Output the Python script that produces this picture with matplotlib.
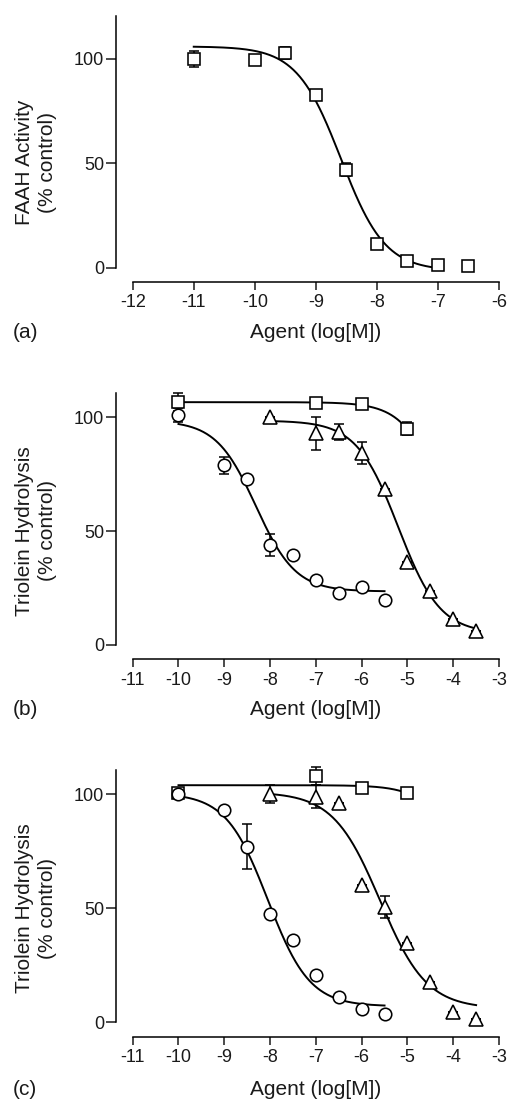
import numpy as np
import matplotlib.pyplot as plt

plt.rcParams['font.family'] = ['Liberation Sans', 'DejaVu Sans']
plt.rcParams['axes.unicode_minus'] = False

# fit rows are: top, bottom, logIC50, hill slope, fitted from, fitted to

# (a) FAAH activity
a_sq_x = [-11, -10, -9.5, -9, -8.5, -8, -7.5, -7, -6.5]
a_sq_y = [100, 99.3, 102.9, 82.9, 47, 11.5, 3.4, 1.4, 1.0]
a_sq_err = [4, 0, 3, 0, 3, 0, 0, 0, 0]
a_sq_fit = [106, -1.5, -8.59, 1.2, -11, -7]

# (b) triolein hydrolysis
b_sq_x = [-10, -7, -6, -5]
b_sq_y = [106.6, 106.1, 105.7, 95]
b_sq_err = [4, 0, 0, 3]
b_sq_fit = [106.6, 0, -4.1, 1.0, -10, -5]

b_tri_x = [-8, -7, -6.5, -6, -5.5, -5, -4.5, -4, -3.5]
b_tri_y = [100.3, 93, 93.7, 84.2, 68.4, 36.3, 23.8, 11.3, 6.3]
b_tri_err = [0, 7.3, 3.5, 4.8, 0, 0, 0, 0, 0]
b_tri_fit = [98.5, 5, -5.2, 0.95, -8, -3.5]

b_ci_x = [-10, -9, -8.5, -8, -7.5, -7, -6.5, -6, -5.5]
b_ci_y = [101, 78.8, 72.9, 43.9, 39.5, 28.5, 23, 25.3, 19.8]
b_ci_err = [3, 3.8, 0, 5, 0, 0, 0, 0, 0]
b_ci_fit = [98.5, 23.5, -8.31, 1.0, -10, -5.5]

# (c) triolein hydrolysis
c_sq_x = [-10, -7, -6, -5]
c_sq_y = [100.4, 108, 102.6, 100.4]
c_sq_err = [2, 4, 0, 0]
c_sq_fit = [104, 0, -3.55, 1.0, -10, -5]

c_tri_x = [-8, -7, -6.5, -6, -5.5, -5, -4.5, -4, -3.5]
c_tri_y = [100, 99, 96.3, 60.2, 50.7, 34.6, 17.8, 4.6, 1.3]
c_tri_err = [4, 5, 0, 0, 4.8, 0, 0, 0, 0]
c_tri_fit = [101, 6, -5.6, 0.85, -8, -3.5]

c_ci_x = [-10, -9, -8.5, -8, -7.5, -7, -6.5, -6, -5.5]
c_ci_y = [100, 93.1, 77, 47.4, 36.1, 20.7, 11.2, 6, 3.5]
c_ci_err = [0, 0, 9.8, 0, 0, 0, 0, 0, 0]
c_ci_fit = [100.5, 7, -8.05, 0.95, -10, -5.5]


def hill(fit):
    top, bottom, logic50, slope, x0, x1 = fit
    xs = np.linspace(x0, x1, 300)
    return xs, bottom + (top - bottom) / (1 + 10 ** ((xs - logic50) * slope))


def series(ax, x, y, err, fit, marker, ms):
    xs, ys = hill(fit)
    ax.plot(xs, ys, color='black', lw=1.4, zorder=2, clip_on=False)
    ax.errorbar(x, y, yerr=err, fmt='none', ecolor='black', elinewidth=1.1,
                capsize=3.6, capthick=1.1, zorder=3, clip_on=False)
    ax.plot(x, y, marker, ms=ms, mfc='white', mec='black', mew=1.15,
            ls='none', zorder=4, clip_on=False)


def style(ax, xlim, ylim, xticks, ylabel, letter, ylab_y, xlab_y):
    ax.set_xlim(xlim)
    ax.set_ylim(ylim)
    ax.set_xticks(xticks)
    ax.set_yticks([0, 50, 100])
    for s in ['top', 'right']:
        ax.spines[s].set_visible(False)
    ax.spines['left'].set_position(('outward', 12))
    ax.spines['bottom'].set_position(('outward', 10.3))
    for s in ['left', 'bottom']:
        ax.spines[s].set_linewidth(1.1)
    ax.tick_params(axis='x', length=5.5, width=1.1, pad=3.5, labelsize=13, colors='#1a1a1a')
    ax.tick_params(axis='y', length=7, width=1.1, pad=1.5, labelsize=13, colors='#1a1a1a')
    ax.set_ylabel(ylabel, fontsize=15, linespacing=1.25, color='#1a1a1a', va='center')
    ax.yaxis.set_label_coords(-0.263, ylab_y)
    ax.set_xlabel('Agent (log[M])', fontsize=15, color='#1a1a1a', va='center')
    ax.xaxis.set_label_coords(0.5, xlab_y)
    ax.text(-0.327, xlab_y, letter, transform=ax.transAxes, fontsize=15,
            color='#1a1a1a', ha='left', va='center')


fig = plt.figure(figsize=(5.08, 11.01), dpi=100)
ax_a = fig.add_axes([0.2612, 0.7569, 0.7211, 0.2286])
ax_b = fig.add_axes([0.2612, 0.4142, 0.7211, 0.2286])
ax_c = fig.add_axes([0.2612, 0.0715, 0.7211, 0.2292])

series(ax_a, a_sq_x, a_sq_y, a_sq_err, a_sq_fit, 's', 8.4)
style(ax_a, (-12, -6), (0, 120.6), range(-12, -5), 'FAAH Activity\n(% control)', '(a)', 0.418, -0.259)

series(ax_b, b_sq_x, b_sq_y, b_sq_err, b_sq_fit, 's', 8.4)
series(ax_b, b_tri_x, b_tri_y, b_tri_err, b_tri_fit, '^', 10)
series(ax_b, b_ci_x, b_ci_y, b_ci_err, b_ci_fit, 'o', 9)
style(ax_b, (-11, -3), (0, 110.5), range(-11, -2), 'Triolein Hydrolysis\n(% control)', '(b)', 0.453, -0.258)

series(ax_c, c_sq_x, c_sq_y, c_sq_err, c_sq_fit, 's', 8.4)
series(ax_c, c_tri_x, c_tri_y, c_tri_err, c_tri_fit, '^', 10)
series(ax_c, c_ci_x, c_ci_y, c_ci_err, c_ci_fit, 'o', 9)
style(ax_c, (-11, -3), (0, 110.7), range(-11, -2), 'Triolein Hydrolysis\n(% control)', '(c)', 0.452, -0.268)

fig.savefig('out.png', dpi=100)
